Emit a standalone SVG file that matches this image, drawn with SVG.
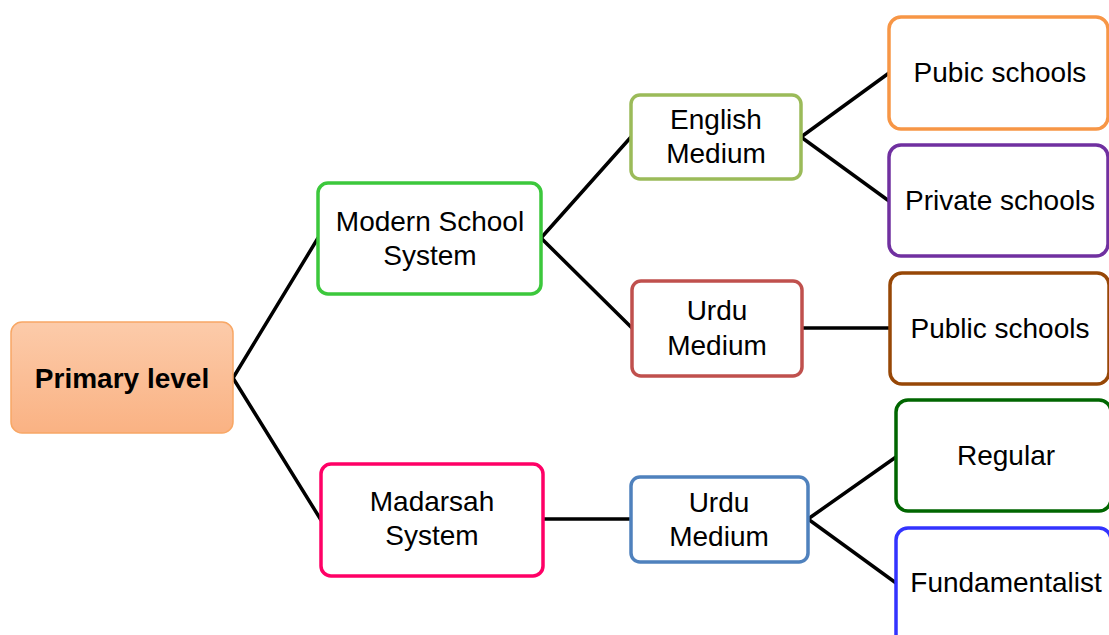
<svg xmlns="http://www.w3.org/2000/svg" width="1109" height="635" viewBox="0 0 1109 635">
<style>
.box{fill:#ffffff;stroke-width:3.5}
.t{font-family:"Liberation Sans",Arial,sans-serif;font-size:28px;fill:#000;text-anchor:middle}
.b{font-weight:bold}
.c line{stroke:#000;stroke-width:3.5;stroke-linecap:round}
</style>
<defs>
<linearGradient id="og" x1="0" y1="0" x2="0" y2="1">
<stop offset="0" stop-color="#FCCBAA"/>
<stop offset="1" stop-color="#FAB283"/>
</linearGradient>
</defs>
<rect width="1109" height="635" fill="#ffffff"/>
<g class="c" id="connectors">
<line x1="233" y1="378" x2="318" y2="238"/>
<line x1="233" y1="378" x2="321" y2="520"/>
<line x1="541" y1="238" x2="631" y2="137"/>
<line x1="541" y1="238" x2="632" y2="328"/>
<line x1="801" y1="137" x2="889" y2="73"/>
<line x1="801" y1="137" x2="889" y2="201"/>
<line x1="802" y1="328" x2="890" y2="328"/>
<line x1="543" y1="519" x2="631" y2="519"/>
<line x1="808" y1="519" x2="896" y2="457"/>
<line x1="808" y1="519" x2="896" y2="583"/>
</g>
<g id="primary">
<rect x="11" y="322" width="222" height="111" rx="11" fill="url(#og)" stroke="#F8A765" stroke-width="1.5"/>
<text class="t b" x="122" y="388">Primary level</text>
</g>
<g id="modern">
<rect class="box" x="318" y="183" width="223" height="111" rx="10" stroke="#3CC83C"/>
<text class="t" x="430" y="231">Modern School</text>
<text class="t" x="430" y="265">System</text>
</g>
<g id="madarsah">
<rect class="box" x="321" y="464" width="222" height="112" rx="10" stroke="#FF0066"/>
<text class="t" x="432" y="511">Madarsah</text>
<text class="t" x="432" y="545">System</text>
</g>
<g id="english">
<rect class="box" x="631" y="95" width="170" height="84" rx="9" stroke="#9BBB59"/>
<text class="t" x="716" y="129">English</text>
<text class="t" x="716" y="163">Medium</text>
</g>
<g id="urdu1">
<rect class="box" x="632" y="281" width="170" height="95" rx="9" stroke="#C0504D"/>
<text class="t" x="717" y="320">Urdu</text>
<text class="t" x="717" y="355">Medium</text>
</g>
<g id="urdu2">
<rect class="box" x="631" y="477" width="177" height="85" rx="9" stroke="#4F81BD"/>
<text class="t" x="719" y="512">Urdu</text>
<text class="t" x="719" y="546">Medium</text>
</g>
<g id="pubic">
<rect class="box" x="889" y="17" width="219" height="112" rx="12" stroke="#F79646"/>
<text class="t" x="1000" y="82">Pubic schools</text>
</g>
<g id="private">
<rect class="box" x="889" y="145" width="219" height="111" rx="12" stroke="#7030A0"/>
<text class="t" x="1000" y="210">Private schools</text>
</g>
<g id="public">
<rect class="box" x="890" y="273" width="219" height="111" rx="12" stroke="#974706"/>
<text class="t" x="1000" y="338">Public schools</text>
</g>
<g id="regular">
<rect class="box" x="896" y="400" width="215" height="111" rx="12" stroke="#006600"/>
<text class="t" x="1006" y="465">Regular</text>
</g>
<g id="fundamentalist">
<rect class="box" x="896" y="528" width="215" height="120" rx="12" stroke="#3333FF"/>
<text class="t" x="1006" y="592">Fundamentalist</text>
</g>
</svg>
